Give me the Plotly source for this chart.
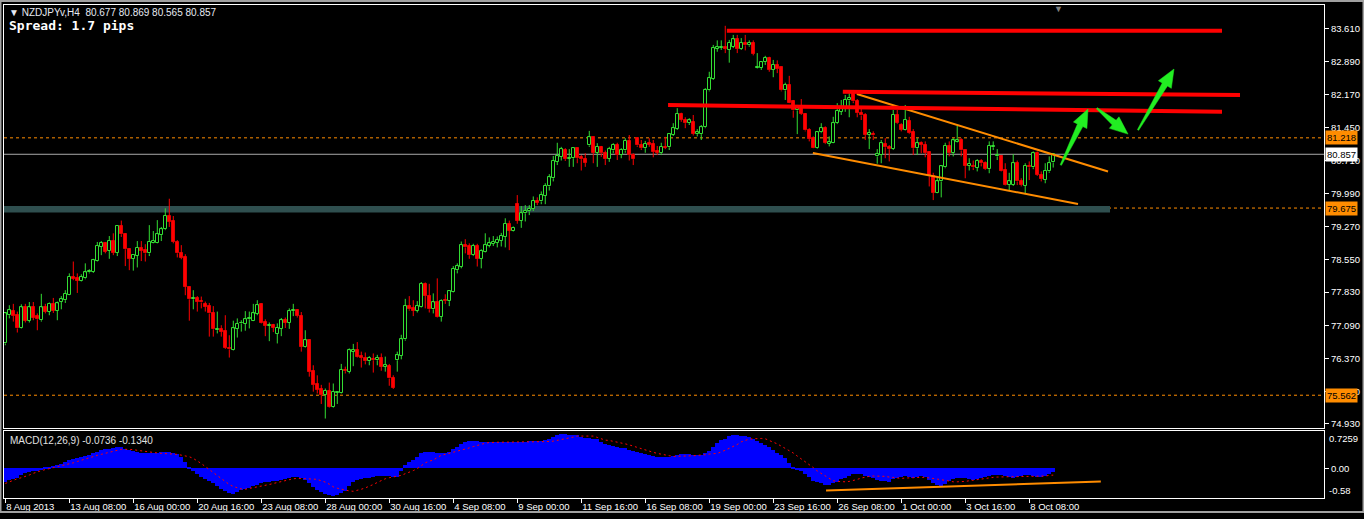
import math
import plotly.graph_objects as go

# ------------------------------------------------------------------ data
# NZDJPYv H4 bars, index 0 = 8 Aug 2013 16:00
bar_open = [
    76.70, 77.32, 77.41, 77.32, 77.03, 77.49, 77.20, 77.49, 77.30, 77.21,
    77.49, 77.40, 77.57, 77.42, 77.61, 77.65, 77.77, 78.17, 78.14, 78.07,
    78.13, 78.26, 78.28, 78.52, 78.83, 78.91, 78.74, 78.95, 78.69, 79.28,
    79.10, 78.77, 78.56, 78.63, 78.80, 78.75, 78.68, 78.91, 78.91, 79.08,
    79.21, 79.50, 79.39, 78.94, 78.68, 78.59, 77.95, 77.67, 77.70, 77.63,
    77.57, 77.52, 77.36, 76.99, 77.01, 76.97, 76.61, 76.55, 77.02, 77.14,
    77.13, 77.23, 77.20, 77.35, 77.57, 77.17, 77.09, 77.10, 76.91, 77.02,
    77.21, 77.16, 77.41, 77.43, 77.30, 76.63, 76.77, 76.09, 75.80, 75.69,
    75.57, 75.65, 75.31, 75.62, 75.62, 76.12, 76.08, 76.52, 76.55, 76.42,
    76.39, 76.31, 76.36, 76.33, 76.38, 76.19, 76.20, 75.93, 76.33, 76.43,
    76.79, 77.52, 77.47, 77.42, 77.51, 78.01, 77.75, 77.45, 77.60, 77.29,
    77.65, 77.63, 77.84, 78.31, 78.39, 78.86, 78.84, 78.64, 78.84, 78.56,
    78.72, 78.85, 78.89, 78.91, 78.96, 79.05, 79.33, 79.18, 79.76, 79.40,
    79.56, 79.60, 79.65, 79.83, 79.82, 79.95, 80.15, 80.33, 80.69, 80.80,
    80.95, 80.76, 80.77, 80.99, 80.79, 80.75, 81.05, 81.23, 80.89, 81.01,
    80.88, 80.76, 80.94, 81.06, 80.84, 80.94, 81.15, 80.84, 81.21, 81.06,
    80.99, 81.10, 81.08, 80.93, 80.88, 81.02, 81.01, 81.28, 81.41, 81.74,
    81.61, 81.54, 81.57, 81.30, 81.30, 81.45, 82.26, 82.51, 83.18, 83.19,
    83.22, 83.15, 83.22, 83.38, 83.17, 83.30, 83.25, 83.30, 82.75, 82.76,
    82.88, 82.97, 82.71, 82.82, 82.77, 82.26, 82.38, 82.02, 81.82, 81.91,
    81.74, 81.39, 81.21, 81.00, 81.34, 81.43, 81.08, 81.11, 81.54, 81.79,
    81.87, 82.04, 82.20, 82.02, 81.76, 81.72, 81.28, 81.30, 80.81, 80.84,
    81.09, 81.01, 80.97, 81.72, 81.50, 81.39, 81.59, 81.34, 80.99, 81.10,
    81.06, 80.90, 80.38, 80.01, 80.26, 80.57, 81.04, 80.88, 81.12, 81.16,
    80.94, 80.61, 80.61, 80.56, 80.71, 80.66, 80.53, 81.01, 80.81, 80.82,
    80.51, 80.18, 80.18, 80.66, 80.26, 80.17, 80.61, 80.57, 80.88, 80.40,
    80.29, 80.48, 80.677,
]
bar_high = [
    77.37, 77.54, 77.57, 77.40, 77.56, 77.57, 77.61, 77.61, 77.36, 77.79,
    77.57, 77.60, 77.70, 77.62, 77.74, 77.87, 78.24, 78.50, 78.24, 78.22,
    78.46, 78.33, 78.56, 78.93, 78.95, 78.93, 79.06, 79.12, 79.29, 79.40,
    79.12, 78.79, 78.66, 78.95, 78.95, 78.88, 79.30, 79.17, 79.41, 79.26,
    79.67, 79.88, 79.50, 78.97, 78.86, 78.66, 77.96, 77.87, 77.74, 77.73,
    77.62, 77.59, 77.52, 77.40, 77.10, 77.32, 76.88, 77.20, 77.25, 77.21,
    77.41, 77.40, 77.57, 77.65, 77.58, 77.23, 77.16, 77.13, 77.14, 77.26,
    77.27, 77.47, 77.57, 77.45, 77.39, 76.99, 76.79, 76.22, 76.00, 75.79,
    75.71, 75.84, 75.82, 75.65, 76.25, 76.19, 76.59, 76.69, 76.73, 76.52,
    76.50, 76.42, 76.48, 76.45, 76.48, 76.41, 76.25, 76.00, 76.52, 76.89,
    77.68, 77.74, 77.65, 77.63, 78.05, 78.04, 78.01, 77.80, 78.13, 77.67,
    77.78, 77.87, 78.40, 78.46, 78.94, 78.99, 78.90, 78.89, 78.89, 78.77,
    79.12, 79.03, 79.06, 79.05, 79.13, 79.45, 79.40, 79.27, 79.96, 79.72,
    79.74, 79.74, 79.93, 79.91, 80.04, 80.22, 80.42, 80.82, 81.11, 81.02,
    80.99, 80.97, 81.00, 81.00, 80.84, 80.88, 81.37, 81.24, 81.10, 81.04,
    80.94, 81.02, 81.10, 81.11, 80.99, 81.21, 81.28, 80.88, 81.23, 81.17,
    81.15, 81.21, 81.17, 81.04, 81.11, 81.24, 81.32, 81.54, 81.87, 81.77,
    81.67, 81.65, 81.72, 81.41, 81.50, 82.31, 82.67, 83.26, 83.36, 83.36,
    83.68, 83.37, 83.48, 83.48, 83.41, 83.48, 83.36, 83.36, 83.08, 82.89,
    83.02, 83.00, 82.93, 82.92, 82.78, 82.43, 82.58, 82.05, 81.94, 82.07,
    81.76, 81.43, 81.25, 81.36, 81.54, 81.47, 81.25, 81.68, 81.98, 82.05,
    82.16, 82.20, 82.27, 82.07, 81.87, 81.76, 81.41, 81.36, 80.97, 81.17,
    81.21, 81.06, 81.83, 81.83, 81.54, 81.94, 81.68, 81.41, 81.21, 81.14,
    81.14, 80.92, 80.45, 80.37, 80.62, 81.11, 81.14, 81.21, 81.48, 81.21,
    80.95, 80.77, 80.72, 80.75, 80.75, 80.70, 81.14, 81.14, 80.97, 80.84,
    80.66, 80.45, 80.86, 80.72, 80.33, 80.66, 80.70, 80.92, 80.92, 80.48,
    80.66, 80.81, 80.869,
]
bar_low = [
    76.66, 77.25, 77.18, 76.94, 77.02, 77.16, 77.16, 77.21, 76.99, 77.18,
    77.36, 77.32, 77.37, 77.21, 77.45, 77.59, 77.76, 78.09, 77.81, 78.06,
    78.11, 78.24, 78.25, 78.50, 78.64, 78.68, 78.56, 78.64, 78.62, 79.04,
    78.40, 78.31, 78.30, 78.37, 78.51, 78.50, 78.62, 78.90, 78.90, 78.95,
    79.19, 79.26, 78.90, 78.59, 78.55, 77.76, 77.20, 77.45, 77.40, 77.47,
    77.40, 76.85, 76.85, 76.92, 76.85, 76.58, 76.39, 76.54, 76.83, 76.96,
    76.98, 77.03, 77.19, 77.32, 77.14, 76.86, 76.75, 76.95, 76.70, 76.86,
    77.04, 77.02, 77.30, 77.27, 76.52, 76.61, 75.97, 75.64, 75.60, 75.37,
    75.05, 75.29, 75.29, 75.37, 75.60, 76.04, 76.04, 76.20, 76.39, 76.17,
    76.24, 76.22, 76.06, 76.22, 76.10, 76.08, 75.77, 75.70, 76.08, 76.35,
    76.76, 77.42, 77.30, 77.38, 77.49, 77.47, 77.38, 77.36, 77.27, 77.18,
    77.57, 77.52, 77.82, 78.24, 78.35, 78.68, 78.56, 78.62, 78.39, 78.35,
    78.70, 78.81, 78.84, 78.81, 78.83, 78.81, 78.75, 79.16, 79.33, 79.24,
    79.38, 79.52, 79.61, 79.74, 79.76, 79.76, 80.06, 80.26, 80.62, 80.72,
    80.71, 80.58, 80.58, 80.66, 80.50, 80.58, 81.02, 80.66, 80.58, 80.80,
    80.62, 80.69, 80.88, 80.73, 80.77, 80.89, 80.72, 80.62, 81.02, 80.95,
    80.89, 81.02, 80.79, 80.84, 80.84, 80.97, 80.95, 81.26, 81.39, 81.57,
    81.43, 81.50, 81.27, 81.25, 81.17, 81.43, 82.24, 82.49, 83.11, 83.15,
    83.08, 82.87, 83.19, 83.08, 83.15, 83.14, 83.22, 83.03, 82.74, 82.71,
    82.82, 82.67, 82.55, 82.64, 82.24, 82.05, 81.98, 81.66, 81.30, 81.72,
    81.36, 81.14, 80.99, 80.98, 81.32, 81.08, 81.03, 81.10, 81.52, 81.72,
    81.79, 81.67, 81.98, 81.67, 81.61, 81.17, 80.97, 81.17, 80.65, 80.66,
    80.77, 80.70, 80.95, 81.52, 81.36, 81.38, 81.30, 80.84, 80.84, 80.88,
    80.79, 80.15, 79.85, 80.00, 79.91, 80.55, 80.81, 80.81, 81.11, 80.81,
    80.33, 80.50, 80.51, 80.48, 80.59, 80.51, 80.44, 80.95, 80.73, 80.48,
    80.17, 80.07, 80.16, 80.18, 80.15, 80.00, 80.29, 80.53, 80.38, 80.26,
    80.22, 80.45, 80.565,
]
bar_close = [
    77.36, 77.43, 77.31, 77.03, 77.49, 77.20, 77.49, 77.27, 77.23, 77.49,
    77.40, 77.57, 77.42, 77.58, 77.67, 77.79, 78.17, 78.12, 78.08, 78.17,
    78.26, 78.30, 78.53, 78.84, 78.91, 78.72, 78.95, 78.69, 79.28, 79.10,
    78.77, 78.56, 78.65, 78.80, 78.74, 78.68, 78.93, 78.95, 79.10, 79.21,
    79.50, 79.37, 78.93, 78.68, 78.58, 77.95, 77.67, 77.69, 77.62, 77.60,
    77.51, 77.36, 77.01, 77.02, 76.96, 76.61, 76.57, 77.03, 77.13, 77.16,
    77.23, 77.26, 77.36, 77.54, 77.16, 77.09, 77.10, 77.05, 77.04, 77.21,
    77.16, 77.41, 77.43, 77.30, 76.63, 76.77, 76.08, 75.79, 75.68, 75.57,
    75.66, 75.31, 75.63, 75.64, 76.12, 76.09, 76.55, 76.55, 76.41, 76.39,
    76.31, 76.38, 76.33, 76.38, 76.19, 76.22, 75.93, 75.73, 76.44, 76.79,
    77.52, 77.45, 77.42, 77.52, 78.01, 77.75, 77.45, 77.60, 77.29, 77.63,
    77.63, 77.85, 78.34, 78.40, 78.86, 78.81, 78.64, 78.84, 78.56, 78.73,
    78.86, 78.90, 78.94, 78.97, 79.06, 79.33, 79.18, 79.24, 79.40, 79.56,
    79.61, 79.66, 79.83, 79.79, 79.96, 80.16, 80.35, 80.71, 80.82, 80.97,
    80.75, 80.78, 80.99, 80.77, 80.75, 80.67, 81.23, 80.89, 81.02, 80.88,
    80.75, 80.97, 81.06, 80.84, 80.95, 81.15, 80.84, 80.75, 81.05, 80.99,
    81.08, 81.06, 80.91, 80.89, 81.02, 81.00, 81.30, 81.43, 81.74, 81.61,
    81.54, 81.60, 81.30, 81.34, 81.45, 82.27, 82.53, 83.19, 83.21, 83.22,
    83.17, 83.31, 83.38, 83.17, 83.30, 83.25, 83.30, 83.06, 82.78, 82.88,
    82.97, 82.71, 82.82, 82.73, 82.26, 82.38, 81.99, 81.82, 81.89, 81.74,
    81.38, 81.19, 81.00, 81.34, 81.43, 81.10, 81.12, 81.54, 81.81, 81.89,
    82.05, 82.09, 82.02, 81.76, 81.71, 81.28, 81.32, 81.27, 80.86, 81.10,
    81.01, 80.97, 81.72, 81.54, 81.39, 81.61, 81.32, 80.99, 81.10, 81.06,
    80.89, 80.37, 80.01, 80.26, 80.59, 81.04, 80.88, 81.16, 81.16, 80.94,
    80.61, 80.65, 80.57, 80.72, 80.66, 80.53, 81.04, 81.04, 80.84, 80.50,
    80.18, 80.26, 80.66, 80.26, 80.18, 80.60, 80.57, 80.88, 80.40, 80.31,
    80.49, 80.66, 80.857,
]
# MACD(12,26,9): main line (histogram) and signal line
macd_main = [
    -0.264, -0.231, -0.211, -0.185, -0.132, -0.092, -0.073, -0.059, -0.046, -0.026,
    0.020, 0.033, 0.046, 0.059, 0.092, 0.125, 0.158, 0.178, 0.198, 0.218,
    0.238, 0.264, 0.290, 0.323, 0.350, 0.370, 0.383, 0.396, 0.422, 0.409,
    0.383, 0.356, 0.330, 0.317, 0.304, 0.297, 0.297, 0.297, 0.304, 0.310,
    0.317, 0.310, 0.297, 0.271, 0.211, 0.119, 0.026, -0.053, -0.119, -0.165,
    -0.211, -0.251, -0.297, -0.350, -0.396, -0.442, -0.482, -0.495, -0.469, -0.429,
    -0.396, -0.376, -0.343, -0.323, -0.290, -0.271, -0.264, -0.257, -0.251, -0.238,
    -0.211, -0.185, -0.165, -0.172, -0.198, -0.238, -0.290, -0.363, -0.422, -0.462,
    -0.495, -0.521, -0.535, -0.521, -0.488, -0.436, -0.343, -0.264, -0.231, -0.211,
    -0.198, -0.185, -0.165, -0.158, -0.152, -0.152, -0.158, -0.165, -0.172, -0.046,
    0.066, 0.125, 0.158, 0.224, 0.290, 0.317, 0.317, 0.317, 0.297, 0.297,
    0.304, 0.323, 0.383, 0.422, 0.475, 0.515, 0.528, 0.528, 0.528, 0.515,
    0.515, 0.515, 0.515, 0.515, 0.515, 0.515, 0.515, 0.515, 0.515, 0.521,
    0.521, 0.528, 0.528, 0.528, 0.535, 0.541, 0.574, 0.607, 0.647, 0.673,
    0.660, 0.653, 0.653, 0.647, 0.607, 0.587, 0.594, 0.561, 0.561, 0.508,
    0.482, 0.462, 0.429, 0.416, 0.403, 0.396, 0.363, 0.330, 0.317, 0.297,
    0.277, 0.264, 0.238, 0.224, 0.211, 0.211, 0.218, 0.238, 0.264, 0.271,
    0.277, 0.277, 0.264, 0.251, 0.251, 0.297, 0.343, 0.416, 0.488, 0.541,
    0.574, 0.620, 0.640, 0.640, 0.634, 0.620, 0.607, 0.561, 0.528, 0.488,
    0.462, 0.409, 0.350, 0.297, 0.251, 0.198, 0.112, 0.033, -0.020, -0.053,
    -0.112, -0.178, -0.244, -0.271, -0.284, -0.317, -0.330, -0.297, -0.264, -0.211,
    -0.185, -0.152, -0.119, -0.119, -0.119, -0.145, -0.172, -0.198, -0.231, -0.244,
    -0.251, -0.264, -0.211, -0.198, -0.178, -0.158, -0.165, -0.185, -0.178, -0.152,
    -0.172, -0.224, -0.284, -0.323, -0.343, -0.310, -0.251, -0.211, -0.198, -0.185,
    -0.198, -0.218, -0.231, -0.205, -0.185, -0.172, -0.145, -0.132, -0.132, -0.132,
    -0.158, -0.178, -0.185, -0.172, -0.158, -0.139, -0.132, -0.152, -0.165, -0.165,
    -0.145, -0.112, -0.0736,
]
macd_signal = [
    -0.297, -0.264, -0.231, -0.205, -0.185, -0.165, -0.132, -0.099, -0.066, -0.046,
    -0.026, -0.007, 0.013, 0.026, 0.046, 0.059, 0.079, 0.106, 0.132, 0.158,
    0.172, 0.198, 0.231, 0.251, 0.271, 0.290, 0.317, 0.343, 0.356, 0.370,
    0.370, 0.370, 0.363, 0.350, 0.337, 0.323, 0.310, 0.304, 0.297, 0.290,
    0.290, 0.284, 0.277, 0.271, 0.257, 0.244, 0.224, 0.191, 0.145, 0.092,
    0.033, -0.026, -0.086, -0.145, -0.198, -0.264, -0.317, -0.356, -0.383, -0.403,
    -0.409, -0.396, -0.383, -0.370, -0.356, -0.337, -0.317, -0.297, -0.277, -0.257,
    -0.238, -0.218, -0.205, -0.198, -0.198, -0.198, -0.205, -0.211, -0.218, -0.238,
    -0.271, -0.310, -0.363, -0.389, -0.409, -0.429, -0.442, -0.449, -0.436, -0.409,
    -0.383, -0.356, -0.317, -0.277, -0.238, -0.205, -0.185, -0.172, -0.165, -0.139,
    -0.106, -0.079, -0.046, -0.007, 0.059, 0.106, 0.139, 0.158, 0.211, 0.251,
    0.271, 0.290, 0.317, 0.337, 0.356, 0.376, 0.396, 0.422, 0.449, 0.475,
    0.488, 0.502, 0.508, 0.508, 0.508, 0.508, 0.508, 0.508, 0.508, 0.508,
    0.508, 0.508, 0.508, 0.508, 0.508, 0.508, 0.521, 0.528, 0.541, 0.554,
    0.568, 0.587, 0.607, 0.627, 0.627, 0.627, 0.627, 0.627, 0.601, 0.568,
    0.548, 0.541, 0.528, 0.508, 0.495, 0.475, 0.455, 0.429, 0.403, 0.376,
    0.356, 0.337, 0.310, 0.290, 0.271, 0.257, 0.244, 0.231, 0.231, 0.231,
    0.231, 0.238, 0.244, 0.251, 0.251, 0.264, 0.277, 0.277, 0.290, 0.317,
    0.350, 0.396, 0.429, 0.462, 0.515, 0.548, 0.568, 0.574, 0.581, 0.581,
    0.574, 0.548, 0.508, 0.475, 0.429, 0.396, 0.350, 0.297, 0.238, 0.185,
    0.132, 0.066, 0.013, -0.053, -0.099, -0.145, -0.198, -0.244, -0.257, -0.264,
    -0.264, -0.257, -0.244, -0.218, -0.191, -0.172, -0.158, -0.152, -0.152, -0.152,
    -0.158, -0.172, -0.185, -0.191, -0.198, -0.191, -0.185, -0.185, -0.178, -0.178,
    -0.178, -0.185, -0.198, -0.211, -0.224, -0.238, -0.251, -0.264, -0.264, -0.264,
    -0.257, -0.244, -0.231, -0.218, -0.211, -0.198, -0.185, -0.178, -0.172, -0.165,
    -0.165, -0.165, -0.165, -0.165, -0.165, -0.165, -0.158, -0.158, -0.158, -0.152,
    -0.152, -0.139, -0.134,
]
# time axis labels (bar index of each label)
time_label_bars = [0, 16, 32, 48, 64, 80, 96, 112, 128, 144, 160, 176, 192, 208, 224, 240, 256]
time_labels = ["8 Aug 2013", "13 Aug 08:00", "16 Aug 00:00", "20 Aug 16:00", "23 Aug 08:00",
               "28 Aug 00:00", "30 Aug 16:00", "4 Sep 08:00", "9 Sep 00:00", "11 Sep 16:00",
               "16 Sep 08:00", "19 Sep 00:00", "23 Sep 16:00", "26 Sep 08:00", "1 Oct 00:00",
               "3 Oct 16:00", "8 Oct 08:00"]
price_ticks = [83.610, 82.890, 82.170, 81.450, 80.710, 79.990, 79.270, 78.550,
               77.830, 77.090, 76.370, 75.650, 74.930]
macd_top, macd_bottom = 0.7259, -0.58

# price levels / drawing objects (chart coordinates: bar index, price)
bid_price = 80.857
orange_levels = [81.218, 79.675, 75.562]
zone_low, zone_high, zone_end_bar = 79.58, 79.72, 276.2
red_lines = [(180.4, 83.57, 304.2, 83.57), (209.4, 82.23, 308.7, 82.16), (165.7, 81.94, 304.2, 81.79)]
orange_lines = [(212.9, 82.18, 275.7, 80.48), (201.9, 80.885, 268.2, 79.764)]
macd_orange_line = (205.2, -0.435, 273.9, -0.257)
green_arrows = [(263.9, 80.62, 270.7, 81.85), (272.9, 81.87, 280.7, 81.30), (283.2, 81.39, 292.2, 82.73)]

# ------------------------------------------------------------------ styles
W, H = 1364, 519
ML, MR, MT, MB = 4, 40, 5, 21
X_RANGE = [-0.33, 329.7]
Y_RANGE = [74.842, 84.137]
MAIN_DOMAIN = [0.142, 1.0]
MACD_DOMAIN = [0.0, 0.1359]
GREEN = "#33DD33"
RED = "#FF0000"
ORANGE = "#FF8C00"
FONT = "Liberation Sans"
TICK_SIZE = 9.5

idx = list(range(len(bar_close)))
fig = go.Figure()

# wicks (split so they do not cross hollow bodies)
for col, is_up in ((GREEN, True), (RED, False)):
    wx, wy = [], []
    for i in idx:
        o, h, l, c = bar_open[i], bar_high[i], bar_low[i], bar_close[i]
        if (c >= o) != is_up:
            continue
        top, bot = max(o, c), min(o, c)
        wx += [i, i, None, i, i, None]
        wy += [top, h, None, l, bot, None]
    fig.add_trace(go.Scatter(x=wx, y=wy, mode="lines", line=dict(color=col, width=1),
                             hoverinfo="skip", xaxis="x", yaxis="y"))

# bodies
for is_up in (True, False):
    bx, bb, bh = [], [], []
    for i in idx:
        o, c = bar_open[i], bar_close[i]
        if (c >= o) != is_up:
            continue
        bx.append(i)
        bb.append(min(o, c))
        bh.append(max(abs(c - o), 0.012))
    fig.add_trace(go.Bar(
        x=bx, y=bh, base=bb, width=0.7,
        marker=dict(color="#000000" if is_up else RED,
                    line=dict(color=GREEN if is_up else "#E00000", width=1)),
        xaxis="x", yaxis="y", hoverinfo="skip"))

# MACD
fig.add_trace(go.Bar(x=idx, y=macd_main, width=1.0, marker=dict(color="#0000FF", line=dict(width=0)),
                     xaxis="x2", yaxis="y2", hoverinfo="skip"))
fig.add_trace(go.Scatter(x=idx, y=macd_signal, mode="lines",
                         line=dict(color="#FF0000", width=1, dash="2px,3px"),
                         xaxis="x2", yaxis="y2", hoverinfo="skip"))

shapes = []
# support zone
shapes.append(dict(type="rect", xref="x", yref="y", x0=X_RANGE[0], x1=zone_end_bar, y0=zone_low, y1=zone_high,
                   fillcolor="#2F4F4F", line=dict(width=0), layer="below"))
# bid line
shapes.append(dict(type="line", xref="paper", yref="y", x0=0, x1=1, y0=bid_price, y1=bid_price,
                   line=dict(color="#A9A9A9", width=1), layer="below"))
for lv in orange_levels:
    shapes.append(dict(type="line", xref="paper", yref="y", x0=0, x1=1, y0=lv, y1=lv,
                       line=dict(color=ORANGE, width=1, dash="3px,3px"), layer="below"))
for (x0, y0, x1, y1) in orange_lines:
    shapes.append(dict(type="line", xref="x", yref="y", x0=x0, y0=y0, x1=x1, y1=y1,
                       line=dict(color=ORANGE, width=2)))
for (x0, y0, x1, y1) in red_lines:
    shapes.append(dict(type="line", xref="x", yref="y", x0=x0, y0=y0, x1=x1, y1=y1,
                       line=dict(color=RED, width=4)))
x0, y0, x1, y1 = macd_orange_line
shapes.append(dict(type="line", xref="x2", yref="y2", x0=x0, y0=y0, x1=x1, y1=y1,
                   line=dict(color=ORANGE, width=2)))

# tapered arrows, built in screen proportions from the axis scales
plot_w = W - ML - MR
plot_h = (H - MT - MB) * (MAIN_DOMAIN[1] - MAIN_DOMAIN[0])
ppx = plot_w / (X_RANGE[1] - X_RANGE[0])
ppy = plot_h / (Y_RANGE[1] - Y_RANGE[0])


def arrow_path(xa, ya, xb, yb, head_len=18, head_half=7.5, tail_half=0.7, neck_half=3.0):
    X0, Y0, X1, Y1 = xa * ppx, ya * ppy, xb * ppx, yb * ppy
    dx, dy = X1 - X0, Y1 - Y0
    L = math.hypot(dx, dy)
    ux, uy = dx / L, dy / L
    nx, ny = -uy, ux
    bxp, byp = X1 - ux * head_len, Y1 - uy * head_len
    pts = [(X0 + nx * tail_half, Y0 + ny * tail_half),
           (bxp + nx * neck_half, byp + ny * neck_half),
           (bxp + nx * head_half, byp + ny * head_half),
           (X1, Y1),
           (bxp - nx * head_half, byp - ny * head_half),
           (bxp - nx * neck_half, byp - ny * neck_half),
           (X0 - nx * tail_half, Y0 - ny * tail_half)]
    return "M " + " L ".join(f"{px / ppx:.4f},{py / ppy:.4f}" for px, py in pts) + " Z"


for (xa, ya, xb, yb) in green_arrows:
    shapes.append(dict(type="path", xref="x", yref="y", path=arrow_path(xa, ya, xb, yb),
                       fillcolor="#22EE22", line=dict(color="#22EE22", width=0.5)))

# outer window frame (grey) outside the plot area
shapes.append(dict(type="rect", xref="paper", yref="paper",
                   x0=-(ML - 0.5) / plot_w, x1=(plot_w + MR - 0.5) / plot_w,
                   y0=-(MB - 7) / (H - MT - MB), y1=(H - MT - MB + MT - 1) / (H - MT - MB),
                   line=dict(color="#A0A0A0", width=2), fillcolor="rgba(0,0,0,0)"))

annotations = []
# price boxes on the right scale
for lv in orange_levels:
    annotations.append(dict(xref="paper", yref="y", x=1, y=lv, xanchor="left", xshift=1,
                            text=f"{lv:.3f}", showarrow=False, bgcolor=ORANGE, borderpad=1,
                            font=dict(family=FONT, size=TICK_SIZE, color="#000000")))
annotations.append(dict(xref="paper", yref="y", x=1, y=bid_price, xanchor="left", xshift=1,
                        text=f"{bid_price:.3f}", showarrow=False, bgcolor="#FFFFFF", borderpad=1,
                        font=dict(family=FONT, size=TICK_SIZE, color="#000000")))
# MACD scale extremes
annotations.append(dict(xref="paper", yref="y2", x=1, y=macd_top, xanchor="left", yanchor="top", xshift=3,
                        text=f"{macd_top:.4f}", showarrow=False,
                        font=dict(family=FONT, size=TICK_SIZE, color="#FFFFFF")))
annotations.append(dict(xref="paper", yref="y2", x=1, y=macd_bottom, xanchor="left", yanchor="bottom", xshift=3,
                        text=f"{macd_bottom:.2f}", showarrow=False,
                        font=dict(family=FONT, size=TICK_SIZE, color="#FFFFFF")))
# header texts
annotations.append(dict(xref="paper", yref="paper", x=0, y=1, xanchor="left", yanchor="top", xshift=3, yshift=0,
                        text="▼ NZDJPYv,H4\u00a0 80.677 80.869 80.565 80.857", showarrow=False,
                        font=dict(family=FONT, size=10, color="#E6EAF2")))
annotations.append(dict(xref="paper", yref="paper", x=0, y=1, xanchor="left", yanchor="top", xshift=3, yshift=-11,
                        text="<b>Spread: 1.7 pips</b>", showarrow=False,
                        font=dict(family="DejaVu Sans Mono", size=13, color="#FFFFFF")))
annotations.append(dict(xref="paper", yref="paper", x=0, y=MACD_DOMAIN[1], xanchor="left", yanchor="top",
                        xshift=4, yshift=-2, text="MACD(12,26,9) -0.0736 -0.1340", showarrow=False,
                        font=dict(family=FONT, size=10, color="#E0E0E0")))
# chart-shift marker
annotations.append(dict(xref="x", yref="paper", x=len(bar_close) + 0.3, y=1, yanchor="top", yshift=3,
                        text="▼", showarrow=False, font=dict(family=FONT, size=9, color="#808080")))

axis_common = dict(showgrid=False, zeroline=False, showline=True, mirror=True,
                   linecolor="#FFFFFF", linewidth=1, fixedrange=True, automargin=False)
fig.update_layout(
    width=W, height=H, margin=dict(l=ML, r=MR, t=MT, b=MB, autoexpand=False),
    paper_bgcolor="#000000", plot_bgcolor="#000000", showlegend=False,
    barmode="overlay", bargap=0,
    xaxis=dict(domain=[0, 1], range=X_RANGE, anchor="y", showticklabels=False, ticks="", **axis_common),
    yaxis=dict(domain=MAIN_DOMAIN, range=Y_RANGE, anchor="x", side="right",
               tickvals=price_ticks, ticktext=[f"{v:.3f}" for v in price_ticks],
               ticks="outside", ticklen=4, tickcolor="#FFFFFF",
               tickfont=dict(family=FONT, size=TICK_SIZE, color="#FFFFFF"), **axis_common),
    xaxis2=dict(domain=[0, 1], range=X_RANGE, anchor="y2", tickvals=time_label_bars, ticktext=time_labels,
                ticks="outside", ticklen=4, tickcolor="#FFFFFF", ticklabelposition="outside right",
                tickangle=0, tickfont=dict(family=FONT, size=TICK_SIZE, color="#FFFFFF"), **axis_common),
    yaxis2=dict(domain=MACD_DOMAIN, range=[macd_bottom, macd_top], anchor="x2", side="right",
                tickvals=[0], ticktext=["0.00"], ticks="outside", ticklen=4, tickcolor="#FFFFFF",
                tickfont=dict(family=FONT, size=TICK_SIZE, color="#FFFFFF"), **axis_common),
    shapes=shapes, annotations=annotations,
)

fig.write_html("out.html", config={"displayModeBar": False},
               post_script="document.body.style.margin='0px';document.body.style.overflow='hidden';")
